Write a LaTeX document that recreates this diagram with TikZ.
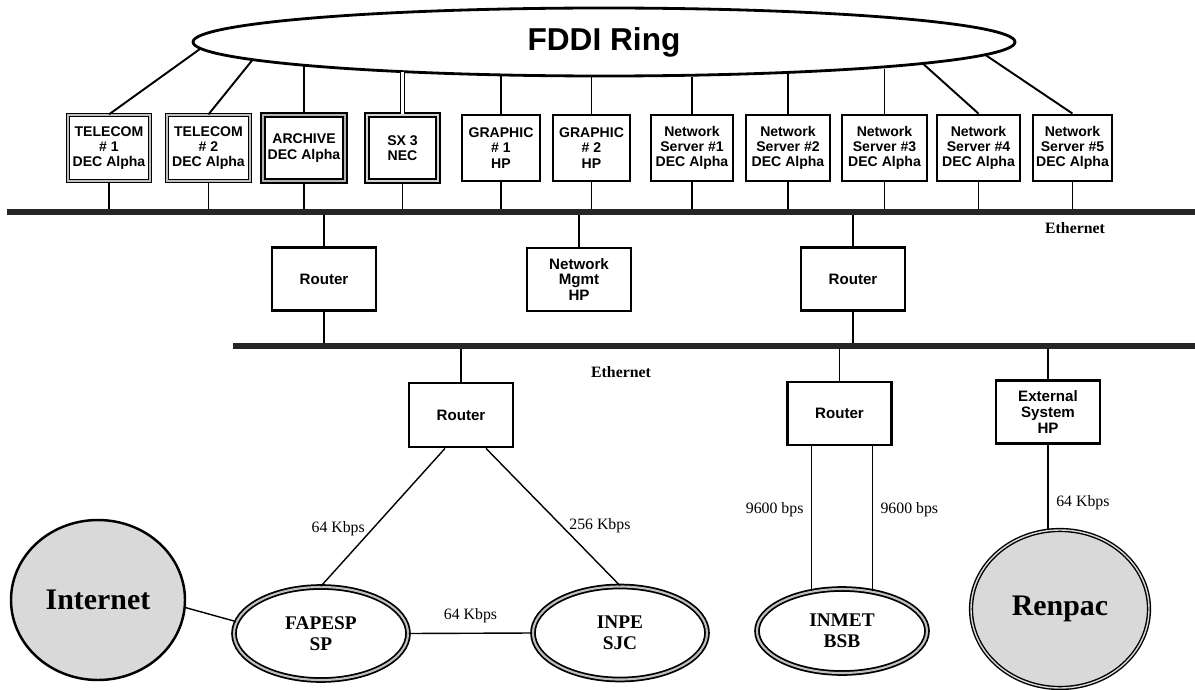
\documentclass[tikz,border=0pt]{standalone}
\usepackage{fontspec}
\setmainfont{Liberation Serif}
\setsansfont{Liberation Sans}
\usetikzlibrary{shapes.geometric,positioning,calc}

\begin{document}
\begin{tikzpicture}[
  host/.style={rectangle,draw,line width=1.6pt,fill=white,minimum width=1.64cm,
               minimum height=1.32cm,inner sep=0pt,align=center,
               font=\sffamily\bfseries\fontsize{8}{8.6}\selectfont},
  telecom/.style={host,line width=0.7pt,double=gray!50,double distance=1.4pt},
  archive/.style={host,line width=1.4pt,double=gray!60,double distance=1pt},
  sxbox/.style={host,line width=1pt,double=gray!35,double distance=1.6pt},
  router/.style={host,minimum width=2.08cm,minimum height=1.26cm,
               font=\sffamily\bfseries\fontsize{8.6}{9}\selectfont},
  bus/.style={rectangle,fill=black!85,inner sep=0pt,minimum height=0.12cm},
  site/.style={ellipse,draw,line width=1pt,double=gray!50,double distance=1.2pt,
               minimum width=3.48cm,minimum height=1.86cm,inner sep=0pt,align=center,
               font=\bfseries\fontsize{11}{12}\selectfont},
  cloud/.style={ellipse,draw,line width=1.4pt,fill=gray!30,inner sep=0pt,
               font=\bfseries\fontsize{17}{19}\selectfont},
  wire/.style={line width=0.8pt},
  rate/.style={font=\fontsize{9}{10}\selectfont},
  lan/.style={font=\bfseries\fontsize{9}{10}\selectfont}]

  \useasboundingbox (0,0) rectangle (23.9,-13.8);

  \node[ellipse,draw,line width=1.6pt,minimum width=16.44cm,minimum height=1.36cm,
        inner sep=0pt,font=\sffamily\bfseries\fontsize{18}{20}\selectfont]
        (ring) at (12.08,-0.84) {FDDI Ring};

  % hosts on the ring
  \node[telecom]                     (t1)  at (2.18,-2.96)  {TELECOM\\\# 1\\DEC Alpha};
  \node[telecom,minimum width=1.66cm] (t2) at (4.17,-2.96)  {TELECOM\\\# 2\\DEC Alpha};
  \node[archive]                     (arch) at (6.08,-2.96) {ARCHIVE\\DEC Alpha};
  \node[sxbox,minimum width=1.42cm]  (sx)  at (8.05,-2.96)  {SX 3\\NEC};
  \node[host,minimum width=1.56cm]   (g1)  at (10.02,-2.96) {GRAPHIC\\\# 1\\HP};
  \node[host,minimum width=1.54cm]   (g2)  at (11.83,-2.96) {GRAPHIC\\\# 2\\HP};
  \node[host]                        (ns1) at (13.84,-2.96) {Network\\Server \#1\\DEC Alpha};
  \node[host,minimum width=1.68cm]   (ns2) at (15.76,-2.96) {Network\\Server \#2\\DEC Alpha};
  \node[host,minimum width=1.70cm]   (ns3) at (17.69,-2.96) {Network\\Server \#3\\DEC Alpha};
  \node[host,minimum width=1.66cm]   (ns4) at (19.57,-2.96) {Network\\Server \#4\\DEC Alpha};
  \node[host,minimum width=1.58cm]   (ns5) at (21.45,-2.96) {Network\\Server \#5\\DEC Alpha};

  % ethernet segments
  \node[bus,minimum width=23.76cm] (bar1) at (12.02,-4.24) {};
  \node[bus,minimum width=19.24cm] (bar2) at (14.28,-6.92) {};
  \node[lan] (ethA) at (21.5,-4.56)  {Ethernet};
  \node[lan] (ethB) at (12.42,-7.44) {Ethernet};

  \node[router] (rtA)  at (6.48,-5.58)  {Router};
  \node[router] (mgmt) at (11.58,-5.59) {Network\\Mgmt\\HP};
  \node[router] (rtB)  at (17.06,-5.58) {Router};
  \node[router,minimum height=1.28cm] (rtC) at (9.22,-8.3)  {Router};
  \node[router] (rtD)  at (16.79,-8.27) {Router};
  \node[router] (ext)  at (20.96,-8.24) {External\\System\\HP};

  % remote sites
  \node[cloud,minimum width=3.48cm,minimum height=3.2cm]  (internet) at (1.96,-12.0) {Internet};
  \node[site]                        (fapesp) at (6.42,-12.67) {FAPESP\\SP};
  \node[site]                        (inpe)   at (12.4,-12.66) {INPE\\SJC};
  \node[site,minimum width=3.4cm,minimum height=1.68cm] (inmet) at (16.84,-12.62) {INMET\\BSB};
  \node[cloud,line width=0.8pt,double=gray!30,double distance=0.8pt,
        minimum width=3.56cm,minimum height=3.16cm] (renpac) at (21.2,-12.18) {Renpac};

  % ring taps
  \draw[wire,line width=1.1pt] (ring.181.5) -- (t1.north);
  \draw[wire,line width=1.1pt] (ring.183) -- (t2.north);
  \draw[wire,line width=1.1pt] (ring.356.8) -- (ns4.north);
  \draw[wire,line width=1.1pt] (ring.358.3) -- (ns5.north);
  \foreach \n/\a in {arch/184.4,g1/197.7,g2/249,ns1/339.3,ns2/350.6,ns3/354.9}
    \draw[wire] (\n.north) -- (\n.north |- ring.\a);
  \draw[wire,double,double distance=1.2pt] (sx.north) -- (sx.north |- ring.188.3);

  \foreach \n in {t1,t2,arch,sx,g1,g2,ns1,ns2,ns3,ns4,ns5}
    \draw[wire] (\n.south) -- (\n.south |- bar1.north);
  \foreach \n in {rtA,mgmt,rtB}
    \draw[wire] (\n.north) -- (\n.north |- bar1.south);
  \foreach \n in {rtA,rtB}
    \draw[wire] (\n.south) -- (\n.south |- bar2.north);
  \foreach \n in {rtC,rtD,ext}
    \draw[wire] (\n.north) -- (\n.north |- bar2.south);

  % serial lines
  \draw[wire] ([xshift=-0.32cm]rtC.south) -- (fapesp.north)
    node[rate,pos=0.58,left=1pt]{64 Kbps};
  \draw[wire] ([xshift=0.5cm]rtC.south) -- (inpe.north)
    node[rate,pos=0.56,right=1pt]{256 Kbps};
  \draw[wire] (fapesp.east) -- (inpe.west) node[rate,midway,above=2pt]{64 Kbps};
  \draw[wire] (internet.-5) -- (fapesp.172);
  \draw[wire] (inmet.127) -- (inmet.127 |- rtD.south)
    node[rate,pos=0.56,left=1pt]{9600 bps};
  \draw[wire] (inmet.53) -- (inmet.53 |- rtD.south)
    node[rate,pos=0.56,right=1pt]{9600 bps};
  \draw[wire] (ext.south) -- (ext.south |- renpac.north)
    node[rate,pos=0.69,right=1pt]{64 Kbps};
\end{tikzpicture}
\end{document}
